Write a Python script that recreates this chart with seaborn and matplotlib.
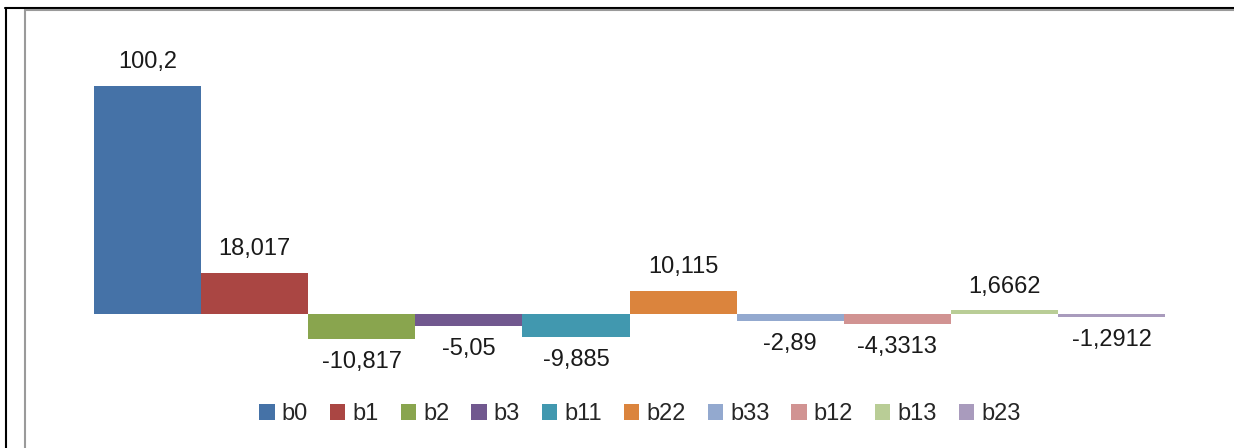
import matplotlib
matplotlib.use("Agg")
import matplotlib.pyplot as plt
import seaborn as sns
from matplotlib.lines import Line2D
from matplotlib.patches import Patch

# Coefficient names and values
names = ["b0", "b1", "b2", "b3", "b11", "b22", "b33", "b12", "b13", "b23"]
values = [100.2, 18.017, -10.817, -5.05, -9.885, 10.115, -2.89, -4.3313, 1.6662, -1.2912]
colors = ["#4572A7", "#AA4643", "#89A54E", "#71588F", "#4198AF",
          "#DB843D", "#93A9CF", "#D19392", "#B9CD96", "#A99BBD"]

sns.set_style("white")
plt.rcParams["font.family"] = ["Liberation Sans", "DejaVu Sans"]

W, H = 1234, 448
fig = plt.figure(figsize=(W / 100, H / 100), dpi=100)
ax = fig.add_axes([94 / W, 1 - 359.6 / H, 1071 / W, (359.6 - 63.2) / H])

sns.barplot(x=names, y=values, hue=names, palette=colors, width=1,
            dodge=False, saturation=1, legend=False, linewidth=0,
            edgecolor="none", ax=ax)

for cont, v in zip(ax.containers, values):
    ax.bar_label(cont, labels=[f"{v:g}".replace(".", ",")], padding=9,
                 fontsize=17, color="#1a1a1a")

ax.set_xlim(-0.5, 9.5)
ax.set_ylim(-20, 110)
ax.axis("off")

# Legend at the bottom
handles = [Patch(facecolor=c, edgecolor="none") for c in colors]
fig.legend(handles, names, loc="center", bbox_to_anchor=(640 / W, 1 - 414 / H),
           ncol=len(names), frameon=False, fontsize=17, handlelength=0.65,
           handleheight=0.65, handletextpad=0.3, columnspacing=0.93)

# Frame lines
fig.add_artist(Line2D([6 / W, 6 / W], [0, 1 - 8 / H], color="black", lw=1.5))
fig.add_artist(Line2D([5 / W, 1], [1 - 8.5 / H, 1 - 8.5 / H], color="black", lw=1.5))
fig.add_artist(Line2D([25 / W, 25 / W], [0, 1 - 10 / H], color="#9a9a9a", lw=1.5))
fig.add_artist(Line2D([25 / W, 1], [1 - 10.5 / H, 1 - 10.5 / H], color="#9a9a9a", lw=1.5))

plt.savefig("out.png", dpi=100)
plt.close()
